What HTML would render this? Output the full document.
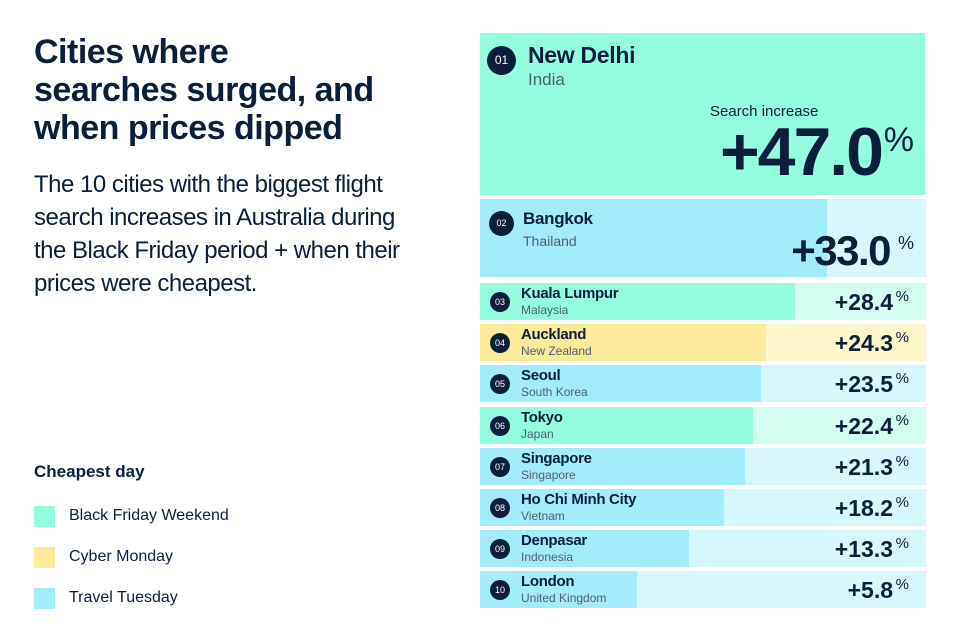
<!DOCTYPE html>
<html><head><meta charset="utf-8"><style>
body{margin:0;width:960px;height:640px;background:#fff;font-family:"Liberation Sans",sans-serif;color:#0b1f3a;position:relative;overflow:hidden}
.abs{position:absolute}
h1{position:absolute;left:34px;top:33px;margin:0;font-size:34px;line-height:38px;font-weight:bold;letter-spacing:-0.5px;width:440px}
.sub{left:34px;top:168px;font-size:24px;line-height:33px;width:395px;letter-spacing:-0.5px;color:#0b1f3a}
.leg{left:69px;font-size:16px}
.sw{position:absolute;left:34px;width:21px;height:21px}
.row{position:absolute;left:480px;width:446px}
.bar{position:absolute;left:0;top:0;bottom:0}
.circ{position:absolute;border-radius:50%;background:#0b1f3a;color:#fff;text-align:center;font-size:9px}
.city{position:absolute;font-weight:bold;letter-spacing:-0.3px}
.cty{position:absolute;color:#4c6070}
.val{position:absolute;font-weight:bold;text-align:right}
.pct{position:absolute;font-weight:normal}
</style></head><body>
<h1>Cities where<br>searches surged, and<br>when prices dipped</h1>
<div class="abs sub">The 10 cities with the biggest flight search increases in Australia during the Black Friday period + when their prices were cheapest.</div>
<div class="abs" style="left:34px;top:462px;font-size:17px;font-weight:bold">Cheapest day</div>
<div class="sw" style="top:506px;background:#94fcdf"></div>
<div class="abs leg" style="top:507px">Black Friday Weekend</div>
<div class="sw" style="top:547px;background:#fde99a"></div>
<div class="abs leg" style="top:548px">Cyber Monday</div>
<div class="sw" style="top:588px;background:#a3ecfc"></div>
<div class="abs leg" style="top:589px">Travel Tuesday</div>
<div id="chart"></div>
<script>
const cities=["New Delhi","Bangkok","Kuala Lumpur","Auckland","Seoul","Tokyo","Singapore","Ho Chi Minh City","Denpasar","London"];
const countries=["India","Thailand","Malaysia","New Zealand","South Korea","Japan","Singapore","Vietnam","Indonesia","United Kingdom"];
const values=[47.0,33.0,28.4,24.3,23.5,22.4,21.3,18.2,13.3,5.8];
const days=["bf","tt","bf","cm","tt","bf","tt","tt","tt","tt"];
const COL={bf:["#94fcdf","#d2fdf0"],cm:["#fde99a","#fff7cc"],tt:["#a3ecfc","#d8f7fd"]};
function xw(v){return 116.5+6.99*v;}
const chart=document.getElementById('chart');
function rowTop(i){return i===0?33:i===1?199:283+(i-2)*41.2;}
function rowH(i){return i===0?162:i===1?78:37;}
values.forEach((v,i)=>{
 const c=COL[days[i]];const top=rowTop(i),h=rowH(i);
 const r=document.createElement('div');r.className='row';
 
 
 r.style.top=top+'px';r.style.height=h+'px';r.style.background=c[1];
 const b=document.createElement('div');b.className='bar';
 
 
 b.style.width=Math.min(446,xw(v))+'px';b.style.background=c[0];r.appendChild(b);
 const n=String(i+1).padStart(2,'0');
 let html='';
 if(i===0){
  html=`<div class="circ" style="left:7px;top:13px;width:29px;height:29px;line-height:29px;font-size:12px">${n}</div>
  <div class="city" style="left:48px;top:9px;font-size:23px">${cities[i]}</div>
  <div class="cty" style="left:48px;top:37px;font-size:17px">${countries[i]}</div>
  <div class="abs" style="left:230px;top:70px;font-size:15px">Search increase</div>
  <div class="val" style="top:84px;font-size:68px;line-height:70px;right:44px;letter-spacing:-2px">+${v.toFixed(1)}</div>
  <div class="pct" style="right:12px;top:88px;font-size:34px">%</div>`;
 }else if(i===1){
  html=`<div class="circ" style="left:9px;top:12px;width:25px;height:25px;line-height:25px">${n}</div>
  <div class="city" style="left:43px;top:10px;font-size:17px">${cities[i]}</div>
  <div class="cty" style="left:43px;top:34px;font-size:14px">${countries[i]}</div>
  <div class="val" style="top:30px;font-size:42px;line-height:44px;right:36px;letter-spacing:-1.5px">+${v.toFixed(1)}</div>
  <div class="pct" style="right:12px;top:34px;font-size:18px">%</div>`;
 }else{
  html=`<div class="circ" style="left:10px;top:9px;width:20px;height:20px;line-height:20px">${n}</div>
  <div class="city" style="left:41px;top:2px;font-size:15px">${cities[i]}</div>
  <div class="cty" style="left:41px;top:20px;font-size:12px">${countries[i]}</div>
  <div class="val" style="top:6px;font-size:23px;line-height:26px;right:33px;letter-spacing:0">+${v.toFixed(1)}</div>
  <div class="pct" style="right:17px;top:5px;font-size:15px">%</div>`;
 }
 r.insertAdjacentHTML('beforeend',html);
 chart.appendChild(r);
});
</script>
</body></html>
